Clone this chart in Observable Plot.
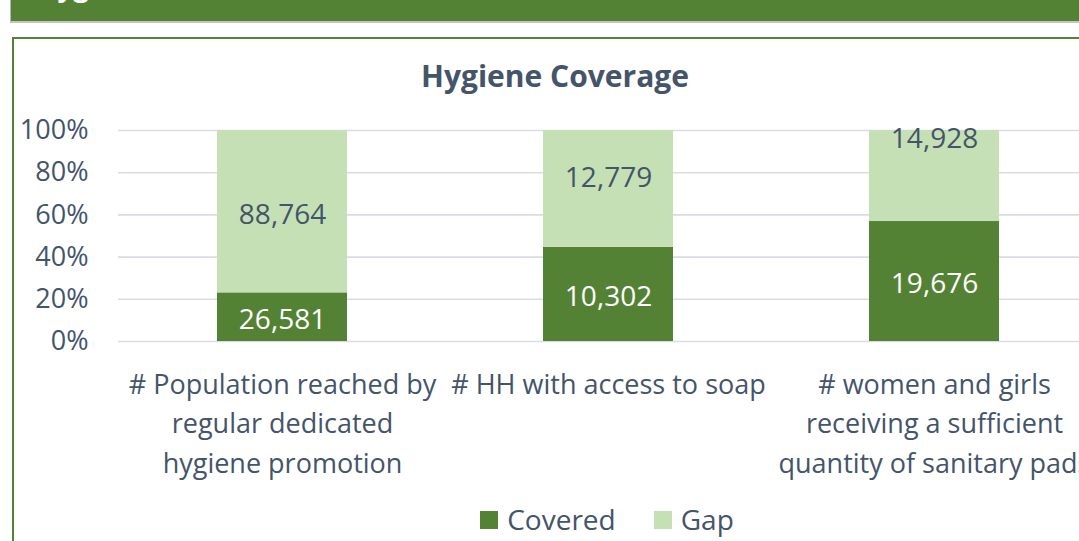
<!DOCTYPE html>
<html><head><meta charset="utf-8">
<script src="https://cdn.jsdelivr.net/npm/d3@7"></script>
<script src="https://cdn.jsdelivr.net/npm/@observablehq/plot@0.6"></script>
<style>
html,body{margin:0;padding:0;background:#fff;}
body{width:1079px;height:541px;overflow:hidden;position:relative;font-family:"Open Sans",sans-serif;}
#header{position:absolute;left:10px;top:0;width:1200px;height:21px;background:#548235;border-bottom:2px solid #c4c4c4;border-left:1px solid #b8b8b8;overflow:hidden;}
#header span{position:absolute;left:25px;top:-29px;font:bold 28px/28px "Open Sans",sans-serif;color:#fff;white-space:nowrap;}
#panel{position:absolute;left:12px;top:37px;width:1200px;height:600px;border:2px solid #548235;box-sizing:border-box;}
#title{position:absolute;left:0;width:1110px;text-align:center;top:61px;font:bold 30px/30px "Open Sans",sans-serif;color:#44546A;}
#chart{position:absolute;left:0;top:110px;width:1120px;}
#chart svg{max-width:none !important;}
#legend{position:absolute;left:0;width:1214px;top:505px;display:flex;justify-content:center;gap:38px;font:28px/28px "Open Sans",sans-serif;color:#44546A;}
#legend .item{display:flex;align-items:flex-start;}
#legend .sw{width:18px;height:18px;margin-top:6px;margin-right:9px;}
</style>
</head>
<body>
<div id="header"><span>Hygiene</span></div>
<div id="panel"></div>
<div id="title">Hygiene Coverage</div>
<div id="chart"></div>
<div id="legend"></div>
<script>
const categories = ["Population reached", "HH with soap", "Women and girls pads"];
const categoryLabels = [
  "# Population reached by\nregular dedicated\nhygiene promotion",
  "# HH with access to soap",
  "# women and girls\nreceiving a sufficient\nquantity of sanitary pads"
];
const series = ["Covered", "Gap"];
const covered = [26581, 10302, 19676];
const gap = [88764, 12779, 14928];
const yTicks = [0, 0.2, 0.4, 0.6, 0.8, 1];
const colors = ["#548235", "#C5E0B4"];
const labelColors = ["#ffffff", "#44546A"];

const rows = [];
categories.forEach((cat, i) => {
  const total = covered[i] + gap[i];
  const c = covered[i] / total;
  rows.push({cat, i, series: series[0], value: covered[i], y1: 0, y2: c});
  rows.push({cat, i, series: series[1], value: gap[i], y1: c, y2: 1});
});

// gap labels in bars 2 and 3 were moved upward by hand in the original
const gapNudge = [0, 0.066, 0.189];

const fmt = d3.format(",");
const chart = Plot.plot({
  width: 1120,
  height: 370,
  marginTop: 20,
  marginBottom: 139,
  marginLeft: 118,
  marginRight: 22,
  style: {fontFamily: "Open Sans, sans-serif", color: "#44546A", background: "transparent", maxWidth: "none"},
  x: {domain: categories, paddingInner: 0.6, paddingOuter: 0.3, axis: null},
  y: {domain: [0, 1]},
  color: {domain: series, range: colors},
  marks: [
    Plot.ruleY(yTicks, {stroke: "#d9dde3", strokeWidth: 1.6}),
    Plot.barY(rows, {x: "cat", y1: "y1", y2: "y2", fill: "series"}),
    Plot.text(rows, {
      x: "cat",
      y: d => (d.y1 + d.y2) / 2 + (d.series === series[1] ? gapNudge[d.i] : 0),
      text: d => fmt(d.value),
      fill: d => labelColors[series.indexOf(d.series)],
      fontSize: 28,
      dy: 3
    }),
    Plot.axisY({ticks: yTicks, tickFormat: d3.format(".0%"), tickSize: 0, tickPadding: 30, fontSize: 27, fill: "#44546A"}),
    Plot.text(categories, {
      x: d => d,
      text: (d, i) => categoryLabels[i],
      frameAnchor: "bottom",
      lineAnchor: "top",
      lineHeight: 1.463,
      dy: 24,
      fontSize: 27,
      fill: "#44546A"
    })
  ]
});
chart.style.maxWidth = "none";
document.getElementById("chart").appendChild(chart);

const legend = document.getElementById("legend");
series.forEach((s, i) => {
  const item = document.createElement("div");
  item.className = "item";
  const sw = document.createElement("div");
  sw.className = "sw";
  sw.style.background = colors[i];
  const t = document.createElement("span");
  t.textContent = s;
  item.appendChild(sw);
  item.appendChild(t);
  legend.appendChild(item);
});
</script>
</body></html>
